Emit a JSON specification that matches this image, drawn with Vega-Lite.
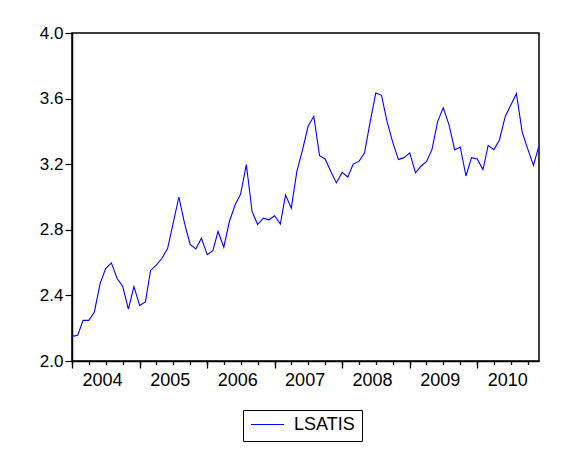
{
  "$schema": "https://vega.github.io/schema/vega-lite/v6.json",
  "autosize": "none",
  "width": 467,
  "height": 328,
  "padding": {"left": 72, "top": 33, "right": 34, "bottom": 89},
  "background": "white",
  "config": {
    "view": {"stroke": "black", "strokeWidth": 1.5},
    "font": "Liberation Sans"
  },
  "data": {
    "values": [
      {"date": "2004-01-01", "value": 2.150, "series": "LSATIS"},
      {"date": "2004-02-01", "value": 2.157, "series": "LSATIS"},
      {"date": "2004-03-01", "value": 2.248, "series": "LSATIS"},
      {"date": "2004-04-01", "value": 2.248, "series": "LSATIS"},
      {"date": "2004-05-01", "value": 2.299, "series": "LSATIS"},
      {"date": "2004-06-01", "value": 2.472, "series": "LSATIS"},
      {"date": "2004-07-01", "value": 2.564, "series": "LSATIS"},
      {"date": "2004-08-01", "value": 2.598, "series": "LSATIS"},
      {"date": "2004-09-01", "value": 2.503, "series": "LSATIS"},
      {"date": "2004-10-01", "value": 2.456, "series": "LSATIS"},
      {"date": "2004-11-01", "value": 2.316, "series": "LSATIS"},
      {"date": "2004-12-01", "value": 2.454, "series": "LSATIS"},
      {"date": "2005-01-01", "value": 2.339, "series": "LSATIS"},
      {"date": "2005-02-01", "value": 2.360, "series": "LSATIS"},
      {"date": "2005-03-01", "value": 2.552, "series": "LSATIS"},
      {"date": "2005-04-01", "value": 2.585, "series": "LSATIS"},
      {"date": "2005-05-01", "value": 2.625, "series": "LSATIS"},
      {"date": "2005-06-01", "value": 2.686, "series": "LSATIS"},
      {"date": "2005-07-01", "value": 2.839, "series": "LSATIS"},
      {"date": "2005-08-01", "value": 3.000, "series": "LSATIS"},
      {"date": "2005-09-01", "value": 2.839, "series": "LSATIS"},
      {"date": "2005-10-01", "value": 2.711, "series": "LSATIS"},
      {"date": "2005-11-01", "value": 2.683, "series": "LSATIS"},
      {"date": "2005-12-01", "value": 2.749, "series": "LSATIS"},
      {"date": "2006-01-01", "value": 2.648, "series": "LSATIS"},
      {"date": "2006-02-01", "value": 2.673, "series": "LSATIS"},
      {"date": "2006-03-01", "value": 2.790, "series": "LSATIS"},
      {"date": "2006-04-01", "value": 2.694, "series": "LSATIS"},
      {"date": "2006-05-01", "value": 2.849, "series": "LSATIS"},
      {"date": "2006-06-01", "value": 2.951, "series": "LSATIS"},
      {"date": "2006-07-01", "value": 3.018, "series": "LSATIS"},
      {"date": "2006-08-01", "value": 3.198, "series": "LSATIS"},
      {"date": "2006-09-01", "value": 2.912, "series": "LSATIS"},
      {"date": "2006-10-01", "value": 2.832, "series": "LSATIS"},
      {"date": "2006-11-01", "value": 2.871, "series": "LSATIS"},
      {"date": "2006-12-01", "value": 2.861, "series": "LSATIS"},
      {"date": "2007-01-01", "value": 2.886, "series": "LSATIS"},
      {"date": "2007-02-01", "value": 2.835, "series": "LSATIS"},
      {"date": "2007-03-01", "value": 3.013, "series": "LSATIS"},
      {"date": "2007-04-01", "value": 2.932, "series": "LSATIS"},
      {"date": "2007-05-01", "value": 3.155, "series": "LSATIS"},
      {"date": "2007-06-01", "value": 3.287, "series": "LSATIS"},
      {"date": "2007-07-01", "value": 3.431, "series": "LSATIS"},
      {"date": "2007-08-01", "value": 3.492, "series": "LSATIS"},
      {"date": "2007-09-01", "value": 3.252, "series": "LSATIS"},
      {"date": "2007-10-01", "value": 3.232, "series": "LSATIS"},
      {"date": "2007-11-01", "value": 3.155, "series": "LSATIS"},
      {"date": "2007-12-01", "value": 3.086, "series": "LSATIS"},
      {"date": "2008-01-01", "value": 3.150, "series": "LSATIS"},
      {"date": "2008-02-01", "value": 3.122, "series": "LSATIS"},
      {"date": "2008-03-01", "value": 3.201, "series": "LSATIS"},
      {"date": "2008-04-01", "value": 3.217, "series": "LSATIS"},
      {"date": "2008-05-01", "value": 3.268, "series": "LSATIS"},
      {"date": "2008-06-01", "value": 3.460, "series": "LSATIS"},
      {"date": "2008-07-01", "value": 3.634, "series": "LSATIS"},
      {"date": "2008-08-01", "value": 3.620, "series": "LSATIS"},
      {"date": "2008-09-01", "value": 3.456, "series": "LSATIS"},
      {"date": "2008-10-01", "value": 3.333, "series": "LSATIS"},
      {"date": "2008-11-01", "value": 3.228, "series": "LSATIS"},
      {"date": "2008-12-01", "value": 3.240, "series": "LSATIS"},
      {"date": "2009-01-01", "value": 3.269, "series": "LSATIS"},
      {"date": "2009-02-01", "value": 3.148, "series": "LSATIS"},
      {"date": "2009-03-01", "value": 3.186, "series": "LSATIS"},
      {"date": "2009-04-01", "value": 3.215, "series": "LSATIS"},
      {"date": "2009-05-01", "value": 3.289, "series": "LSATIS"},
      {"date": "2009-06-01", "value": 3.461, "series": "LSATIS"},
      {"date": "2009-07-01", "value": 3.544, "series": "LSATIS"},
      {"date": "2009-08-01", "value": 3.441, "series": "LSATIS"},
      {"date": "2009-09-01", "value": 3.287, "series": "LSATIS"},
      {"date": "2009-10-01", "value": 3.305, "series": "LSATIS"},
      {"date": "2009-11-01", "value": 3.128, "series": "LSATIS"},
      {"date": "2009-12-01", "value": 3.240, "series": "LSATIS"},
      {"date": "2010-01-01", "value": 3.232, "series": "LSATIS"},
      {"date": "2010-02-01", "value": 3.167, "series": "LSATIS"},
      {"date": "2010-03-01", "value": 3.315, "series": "LSATIS"},
      {"date": "2010-04-01", "value": 3.289, "series": "LSATIS"},
      {"date": "2010-05-01", "value": 3.348, "series": "LSATIS"},
      {"date": "2010-06-01", "value": 3.490, "series": "LSATIS"},
      {"date": "2010-07-01", "value": 3.560, "series": "LSATIS"},
      {"date": "2010-08-01", "value": 3.630, "series": "LSATIS"},
      {"date": "2010-09-01", "value": 3.396, "series": "LSATIS"},
      {"date": "2010-10-01", "value": 3.293, "series": "LSATIS"},
      {"date": "2010-11-01", "value": 3.192, "series": "LSATIS"},
      {"date": "2010-12-01", "value": 3.313, "series": "LSATIS"}
    ]
  },
  "resolve": {"axis": {"x": "independent"}},
  "layer": [
    {
      "mark": {"type": "line", "opacity": 0},
      "encoding": {
        "x": {
          "field": "date",
          "type": "temporal",
          "scale": {
            "type": "utc",
            "domain": [
              {"year": 2004, "month": 1, "date": 1, "utc": true},
              {"year": 2010, "month": 12, "date": 1, "utc": true}
            ],
            "nice": false
          },
          "axis": {
            "orient": "bottom",
            "title": null,
            "grid": false,
            "domain": false,
            "labels": false,
            "tickCount": {"interval": "month", "step": 3},
            "tickSize": 3.5,
            "tickColor": "black",
            "tickWidth": 1.3
          }
        },
        "y": {
          "field": "value",
          "type": "quantitative",
          "scale": {"domain": [2, 4], "nice": false, "zero": false},
          "axis": {
            "title": null,
            "grid": false,
            "values": [2, 2.4, 2.8, 3.2, 3.6, 4],
            "format": ".1f",
            "tickSize": 7,
            "tickColor": "black",
            "tickWidth": 1.2,
            "domainColor": "black",
            "domainWidth": 1.5,
            "labelFontSize": 17,
            "labelColor": "black",
            "labelPadding": 2
          }
        }
      }
    },
    {
      "mark": {"type": "line", "strokeWidth": 1.1, "clip": true},
      "encoding": {
        "x": {
          "field": "date",
          "type": "temporal",
          "axis": {
            "orient": "bottom",
            "title": null,
            "grid": false,
            "tickCount": {"interval": "year", "step": 1},
            "tickSize": 7,
            "tickColor": "black",
            "tickWidth": 1.3,
            "domainColor": "black",
            "domainWidth": 1.5,
            "format": "%Y",
            "labelOffset": 30,
            "labelOverlap": false,
            "labelBound": false,
            "labelFlush": false,
            "labelFontSize": 18,
            "labelColor": "black",
            "labelPadding": 3
          }
        },
        "y": {"field": "value", "type": "quantitative"},
        "color": {
          "field": "series",
          "type": "nominal",
          "scale": {"range": ["#0000ff"]},
          "legend": {
            "title": null,
            "orient": "none",
            "legendX": 171,
            "legendY": 377,
            "direction": "vertical",
            "strokeColor": "black",
            "fillColor": "white",
            "padding": 7,
            "clipHeight": 15,
            "symbolType": "stroke",
            "symbolSize": 1089,
            "symbolStrokeWidth": 1.2,
            "labelFontSize": 18,
            "labelOffset": 9,
            "labelColor": "black"
          }
        }
      }
    }
  ]
}
